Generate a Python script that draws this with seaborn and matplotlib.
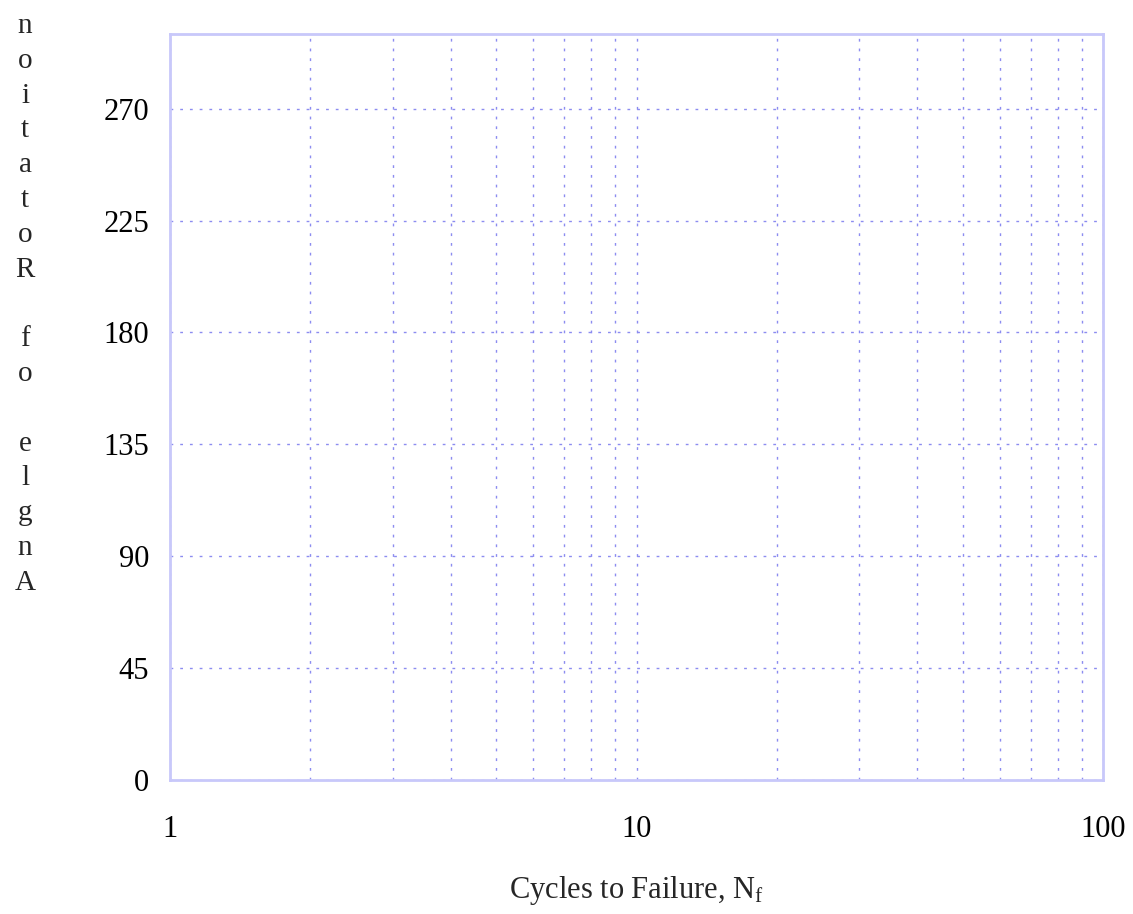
import seaborn as sns
import pandas as pd
import matplotlib as mpl
from matplotlib import pyplot as plt

sns.set_style("white")
plt.rcParams['font.family'] = ['Liberation Serif', 'DejaVu Serif']
plt.rcParams['mathtext.fontset'] = 'custom'
plt.rcParams['mathtext.rm'] = 'Liberation Serif'

# empty chart: only axes and grid
cycles = []
angle = []
x_ticks = [1, 10, 100]
y_ticks = [0, 45, 90, 135, 180, 225, 270]
y_label = "Angle of Rotation"
x_label = r"Cycles to Failure, N$\mathregular{_f}$"

df = pd.DataFrame({'cycles': pd.Series(cycles, dtype=float),
                   'angle': pd.Series(angle, dtype=float)})

fig = plt.figure(figsize=(11.33, 9.14), dpi=100)
ax = fig.add_axes([170 / 1133, 1 - 780 / 914, 933 / 1133, 746 / 914])

sns.lineplot(data=df, x='cycles', y='angle', ax=ax)

ax.set_xscale('log')
ax.set_xlim(1, 100)
ax.set_ylim(0, 300)
ax.set_xticks(x_ticks)
ax.set_xticklabels([str(t) for t in x_ticks])
ax.set_yticks(y_ticks)
ax.set_yticklabels([str(t) for t in y_ticks])
ax.xaxis.set_minor_locator(mpl.ticker.LogLocator(base=10, subs=range(2, 10)))
ax.xaxis.set_minor_formatter(mpl.ticker.NullFormatter())

grid_col = '#8c8cf0'
ax.grid(True, which='both', axis='x', color=grid_col, linestyle=(0, (2, 5)), linewidth=1)
ax.grid(True, which='major', axis='y', color=grid_col, linestyle=(0, (2, 5)), linewidth=1)
ax.tick_params(which='both', direction='in', length=5, color='#b4b4f5', labelsize=22,
               labelcolor='black')
ax.tick_params(axis='x', pad=25)
ax.tick_params(axis='y', pad=15)
for s in ax.spines.values():
    s.set_color('#c8c8fa')
    s.set_linewidth(2)

ax.set_xlabel(x_label, fontsize=22, labelpad=22)
ax.set_ylabel('')

# reversed, one letter per line, as in the original
fig.text(25 / 1133, 1 - 13 / 914, "\n".join(y_label[::-1]), fontsize=21,
         ha='center', va='top', linespacing=1.44)

plt.savefig('out.png', dpi=100)
